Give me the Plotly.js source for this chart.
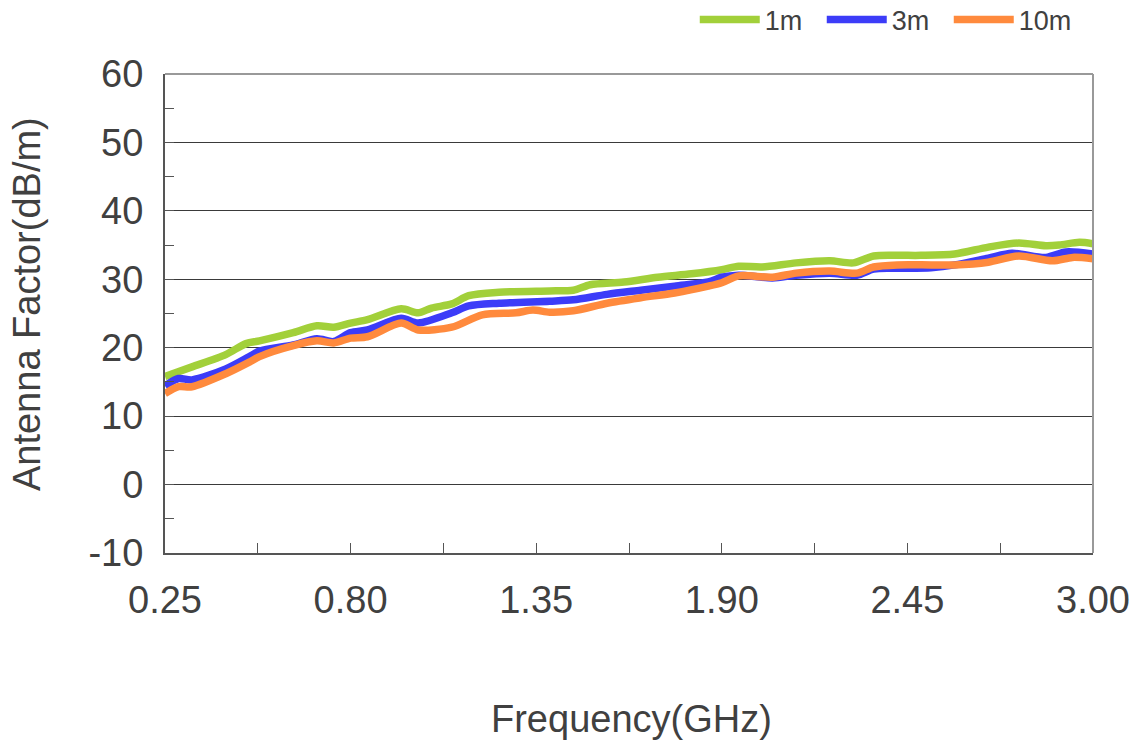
<!DOCTYPE html>
<html>
<head>
<meta charset="utf-8">
<script src="https://cdn.plot.ly/plotly-3.0.1.min.js"></script>
<style>html,body{margin:0;padding:0;background:#fff;}#chart{width:1130px;height:740px;}</style>
</head>
<body>
<div id="chart"></div>
<script>
// Frequency (GHz) and antenna factor (dB/m)
const freq1m = [0.25,0.33,0.43,0.49,0.53,0.63,0.70,0.75,0.80,0.85,0.95,1.00,1.04,1.10,1.15,1.24,1.39,1.46,1.51,1.61,1.71,1.81,1.90,1.95,2.02,2.12,2.22,2.29,2.35,2.42,2.49,2.59,2.69,2.78,2.86,2.90,2.96,3.00];
const af1m   = [15.8,17.2,19.0,20.6,21.0,22.2,23.2,23.0,23.6,24.1,25.7,25.1,25.8,26.4,27.6,28.1,28.3,28.4,29.2,29.6,30.3,30.8,31.4,31.9,31.8,32.4,32.7,32.4,33.4,33.5,33.5,33.7,34.7,35.3,34.9,35.0,35.4,35.2];

const freq3m = [0.25,0.29,0.33,0.43,0.50,0.53,0.63,0.70,0.75,0.80,0.85,0.95,1.00,1.10,1.15,1.24,1.39,1.46,1.56,1.66,1.76,1.86,1.90,1.95,2.05,2.12,2.22,2.30,2.35,2.42,2.52,2.59,2.69,2.76,2.86,2.92,3.00];
const af3m   = [14.4,15.5,15.3,16.9,18.7,19.5,20.4,21.3,20.9,22.2,22.6,24.3,23.6,25.1,26.1,26.5,26.8,27.0,27.8,28.4,29.0,29.6,30.3,30.6,30.2,30.6,30.9,30.6,31.5,31.6,31.7,32.1,33.1,33.8,33.2,34.0,33.7];

const freq10m = [0.25,0.29,0.33,0.43,0.50,0.53,0.63,0.70,0.75,0.80,0.85,0.95,1.00,1.10,1.19,1.29,1.34,1.39,1.46,1.56,1.66,1.76,1.86,1.90,1.95,2.05,2.12,2.22,2.30,2.35,2.42,2.52,2.59,2.69,2.78,2.88,2.94,3.00];
const af10m   = [13.3,14.3,14.3,16.2,17.9,18.7,20.3,21.0,20.7,21.4,21.6,23.6,22.6,23.0,24.8,25.1,25.5,25.2,25.4,26.5,27.3,28.0,29.0,29.5,30.5,30.3,30.9,31.2,30.9,31.8,32.1,32.1,32.1,32.5,33.4,32.7,33.2,33.0];

const seriesNames = ['1m','3m','10m'];
const xTickVals = [0.25,0.80,1.35,1.90,2.45,3.00];
const xTickText = ['0.25','0.80','1.35','1.90','2.45','3.00'];
const yTickVals = [-10,0,10,20,30,40,50,60];
const yTickText = ['-10','0','10','20','30','40','50','60'];
const xTitle = 'Frequency(GHz)';
const yTitle = 'Antenna Factor(dB/m)';

const FONT = 'Liberation Sans, Arial, sans-serif';
const TXT = '#404040';
const FS = 38;

const traces = [
  {x: freq1m, y: af1m, name: seriesNames[0], color: '#a2d03a'},
  {x: freq3m, y: af3m, name: seriesNames[1], color: '#3c3cf8'},
  {x: freq10m, y: af10m, name: seriesNames[2], color: '#ff8a3d'}
].map(s => ({
  x: s.x, y: s.y, name: s.name, type: 'scatter', mode: 'lines',
  line: {color: s.color, width: 7.5, shape: 'spline', smoothing: 0.8},
  hoverinfo: 'skip'
}));

const layout = {
  width: 1130, height: 740,
  paper_bgcolor: '#fff', plot_bgcolor: '#fff',
  margin: {l: 165, r: 37, t: 74, b: 187},
  font: {family: FONT, color: TXT},
  showlegend: true,
  legend: {
    orientation: 'h', xref: 'container', yref: 'container',
    x: 0.952, xanchor: 'right', y: 0.973, yanchor: 'middle',
    font: {size: 27, color: TXT, family: FONT}, bgcolor: 'rgba(0,0,0,0)',
    itemwidth: 60, tracegroupgap: 0, entrywidth: 52, entrywidthmode: 'pixels'
  },
  xaxis: {
    range: [0.25, 3.0], tickmode: 'array', tickvals: xTickVals, ticktext: xTickText,
    showgrid: false, zeroline: false,
    showline: true, linecolor: '#555', linewidth: 2,
    ticks: 'inside', ticklen: 10, tickcolor: '#555', tickwidth: 1,
    minor: {tick0: 0.25, dtick: 0.275, ticks: 'inside', ticklen: 10, tickcolor: '#555', tickwidth: 1, showgrid: false},
    tickfont: {size: FS, color: TXT, family: FONT},
    ticklabelstandoff: 12,
    automargin: false, fixedrange: true
  },
  yaxis: {
    range: [-10, 60], tickmode: 'array', tickvals: yTickVals, ticktext: yTickText,
    showgrid: true, gridcolor: '#3a3a3a', gridwidth: 1, zeroline: false,
    showline: true, linecolor: '#555', linewidth: 2,
    ticks: 'inside', ticklen: 9, tickcolor: '#555', tickwidth: 1,
    minor: {dtick: 5, tick0: 0, ticks: 'inside', ticklen: 9, tickcolor: '#555', tickwidth: 1, showgrid: false},
    tickfont: {size: FS, color: TXT, family: FONT},
    ticklabelstandoff: 12,
    automargin: false, fixedrange: true
  },
  annotations: [
    {text: xTitle, xref: 'paper', yref: 'paper', x: 0.503, y: -0.346, xanchor: 'center', yanchor: 'middle',
     showarrow: false, font: {size: FS, color: TXT, family: FONT}},
    {text: yTitle, xref: 'paper', yref: 'paper', x: -0.148, y: 0.519, xanchor: 'center', yanchor: 'middle',
     textangle: -90, showarrow: false, font: {size: FS, color: TXT, family: FONT}}
  ],
  shapes: [
    {type: 'line', xref: 'paper', yref: 'paper', x0: 0, x1: 1, y0: 1, y1: 1, line: {color: '#999', width: 2}},
    {type: 'line', xref: 'paper', yref: 'paper', x0: 1, x1: 1, y0: 0, y1: 1, line: {color: '#999', width: 2}}
  ]
};

Plotly.newPlot('chart', traces, layout, {displayModeBar: false, staticPlot: true});
</script>
</body>
</html>
